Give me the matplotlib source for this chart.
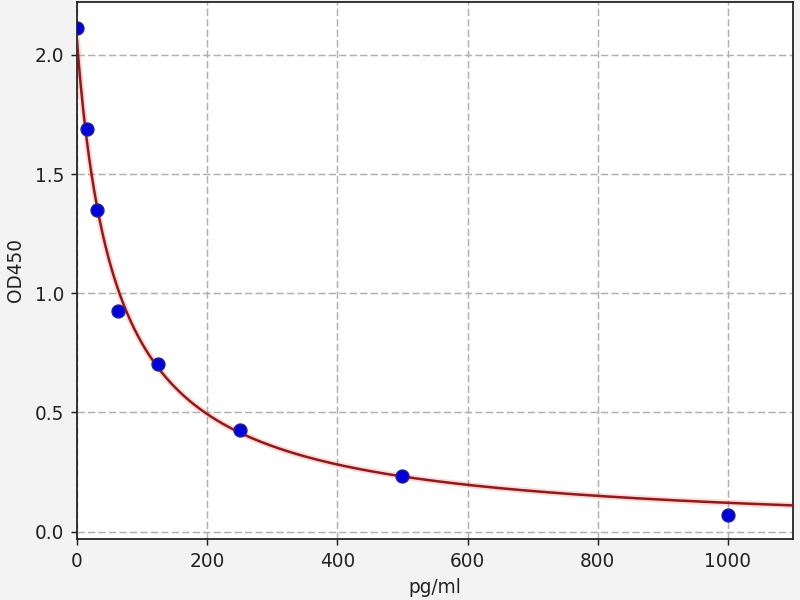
import numpy as np
import matplotlib
matplotlib.use("Agg")
import matplotlib.pyplot as plt

# Standard points
conc = [0, 15.625, 31.25, 62.5, 125, 250, 500, 1000]
od = [2.113, 1.69, 1.35, 0.926, 0.703, 0.428, 0.233, 0.07]

# 4-parameter logistic curve parameters (fitted curve)
A_TOP, B_SLOPE, C_MID, D_BOT = 2.06, 0.97, 62.0, -0.01

x_ticks = [0, 200, 400, 600, 800, 1000]
y_ticks = [0.0, 0.5, 1.0, 1.5, 2.0]

S = 4 / 3  # scale factor
fig = plt.figure(figsize=(8, 6), dpi=100, facecolor="#f3f3f3")
ax = fig.add_axes([0.09625, 0.1017, 0.895, 0.895])
ax.set_facecolor("white")

xs = np.linspace(0, 1100, 1000)
ys = D_BOT + (A_TOP - D_BOT) / (1 + (xs / C_MID) ** B_SLOPE)
ax.plot(xs, ys, color="#ff5050", lw=4.5, alpha=0.22, zorder=2)
ax.plot(xs, ys, color="#8e1a1a", lw=1.8, zorder=3)
ax.plot(conc, od, "o", color="#0000d8", mec="#20209a", mew=1.0, ms=9.3, zorder=4)

ax.set_xlim(0, 1100)
ax.set_ylim(-0.031, 2.222)
ax.set_xticks(x_ticks)
ax.set_yticks(y_ticks)
ax.set_yticklabels([f"{v:.1f}" for v in y_ticks])
ax.grid(True, linestyle=(0, (3.7 * S, 1.6 * S)), color="#b0b0b0", lw=0.8 * S)
ax.set_axisbelow(True)
for s in ax.spines.values():
    s.set_color("#222222")
    s.set_linewidth(0.8 * S * 1.2)
ax.tick_params(labelsize=10 * S, colors="#222222", length=3.5 * S,
               width=0.8 * S, pad=3.5 * S)
ax.set_xlabel("pg/ml", fontsize=10 * S, color="#222222", labelpad=4 * S)
ax.set_ylabel("OD450", fontsize=10 * S, color="#222222", labelpad=5 * S)

fig.savefig("out.png", dpi=100, facecolor=fig.get_facecolor())
